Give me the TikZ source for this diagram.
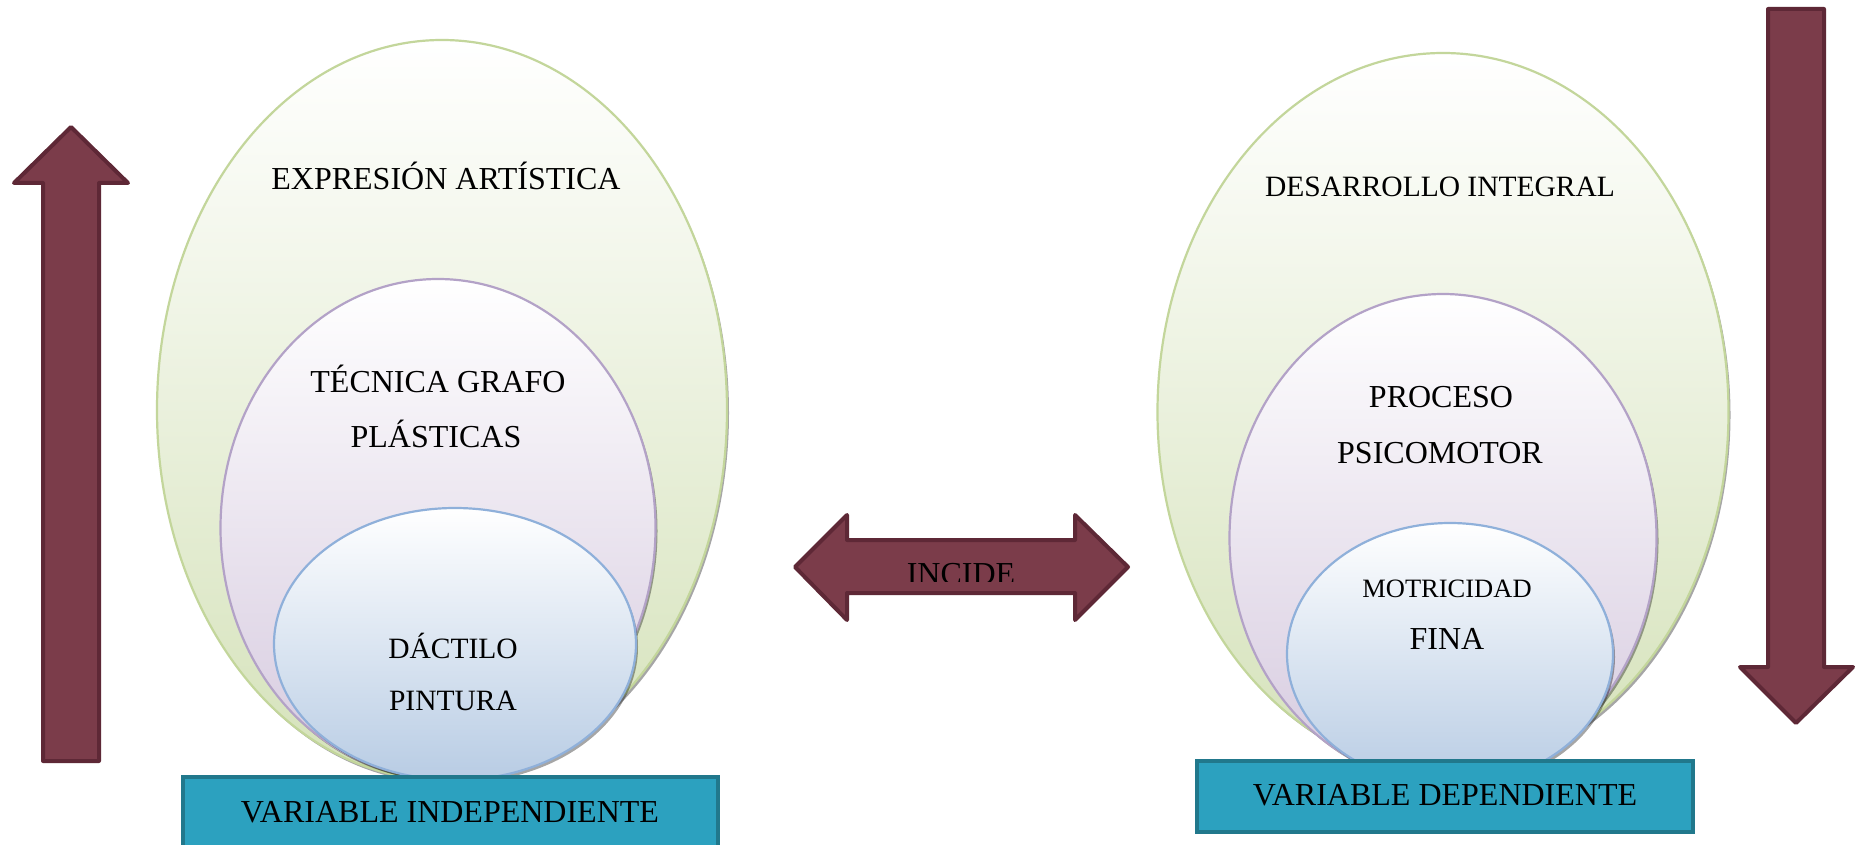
\documentclass[tikz,border=0pt]{standalone}
\usepackage{fontspec}
\setmainfont{Liberation Serif}
\usetikzlibrary{shapes.geometric,shadows}
\definecolor{arrowfill}{HTML}{7B3C4A}
\definecolor{arrowdraw}{HTML}{5E2836}
\definecolor{boxfill}{HTML}{2CA1BF}
\definecolor{boxdraw}{HTML}{21788C}
\definecolor{greenedge}{HTML}{C3D69B}
\definecolor{greenfill}{HTML}{D5E2BA}
\definecolor{purpleedge}{HTML}{B3A2C7}
\definecolor{purplefill}{HTML}{D6CADF}
\definecolor{blueedge}{HTML}{8FB0DA}
\definecolor{bluefill}{HTML}{B8CCE4}
\begin{document}
\begin{tikzpicture}[x=1pt,y=-1pt,
  ell/.style={ellipse, inner sep=0pt, line width=2.2pt,
    drop shadow={shadow xshift=2pt, shadow yshift=-3pt, opacity=.35, fill=black}},
  greenell/.style={ell, draw=greenedge, top color=white, bottom color=greenfill},
  purpleell/.style={ell, draw=purpleedge, top color=white, bottom color=purplefill},
  blueell/.style={ell, draw=blueedge, top color=white, bottom color=bluefill},
  blockarrow/.style={fill=arrowfill, draw=arrowdraw, line width=4pt, line join=round},
  varbox/.style={fill=boxfill, draw=boxdraw, line width=4pt, inner sep=0pt},
  txt/.style={font=\fontsize{32}{38}\selectfont, inner sep=0pt, anchor=base},
  txtsmall/.style={txt, font=\fontsize{29.5}{35}\selectfont},
  txttiny/.style={txt, font=\fontsize{26.5}{32}\selectfont},
]
\useasboundingbox (0,0) rectangle (1861,845);
\fill[white] (0,0) rectangle (1861,845);

% left arrow (up)
\draw[blockarrow] (71,127) -- (128,183) -- (99,183) -- (99,761) -- (43,761) -- (43,183) -- (14,183) -- cycle;
% right arrow (down)
\draw[blockarrow] (1768,9) -- (1824,9) -- (1824,667) -- (1853,667) -- (1796,723) -- (1740,667) -- (1768,667) -- cycle;
% middle double arrow
\draw[blockarrow] (795,567) -- (847,515) -- (847,540) -- (1075,540) -- (1075,515) -- (1128,567) -- (1075,620) -- (1075,593) -- (847,593) -- (847,620) -- cycle;
\begin{scope}
  \clip (795,500) rectangle (1128,581);
  \node[txt] (incide) at (961,584) {INCIDE};
\end{scope}

% left ellipses
\node[greenell, minimum width=570pt, minimum height=740pt] (le1) at (442,410) {};
\node[purpleell, minimum width=435pt, minimum height=498pt] (le2) at (438,528) {};
\node[blueell, minimum width=362pt, minimum height=272pt] (le3) at (455,644) {};

% right ellipses
\node[greenell, minimum width=571pt, minimum height=718pt] (re1) at (1443,412) {};
\node[purpleell, minimum width=427pt, minimum height=488pt] (re2) at (1443,538) {};
\node[blueell, minimum width=326pt, minimum height=262pt] (re3) at (1450,654) {};

% boxes
\draw[varbox] (183,777) rectangle (718,850);
\draw[varbox] (1197,761) rectangle (1693,832);

% texts left
\node[txt] (t1) at (446,190) {EXPRESIÓN ARTÍSTICA};
\node[txt] (t2) at (438,392) {TÉCNICA GRAFO};
\node[txt] (t3) at (436,447) {PLÁSTICAS};
\node[txtsmall] (t4) at (453,658) {DÁCTILO};
\node[txtsmall] (t5) at (453,710) {PINTURA};
\node[txt] (t6) at (450,822) {VARIABLE INDEPENDIENTE};

% texts right
\node[txtsmall] (r1) at (1440,197) {DESARROLLO INTEGRAL};
\node[txt] (r2) at (1441,407) {PROCESO};
\node[txt] (r3) at (1440,463) {PSICOMOTOR};
\node[txttiny] (r4) at (1447,597) {MOTRICIDAD};
\node[txt] (r5) at (1447,649) {FINA};
\node[txt] (r6) at (1445,805) {VARIABLE DEPENDIENTE};
\end{tikzpicture}
\end{document}
